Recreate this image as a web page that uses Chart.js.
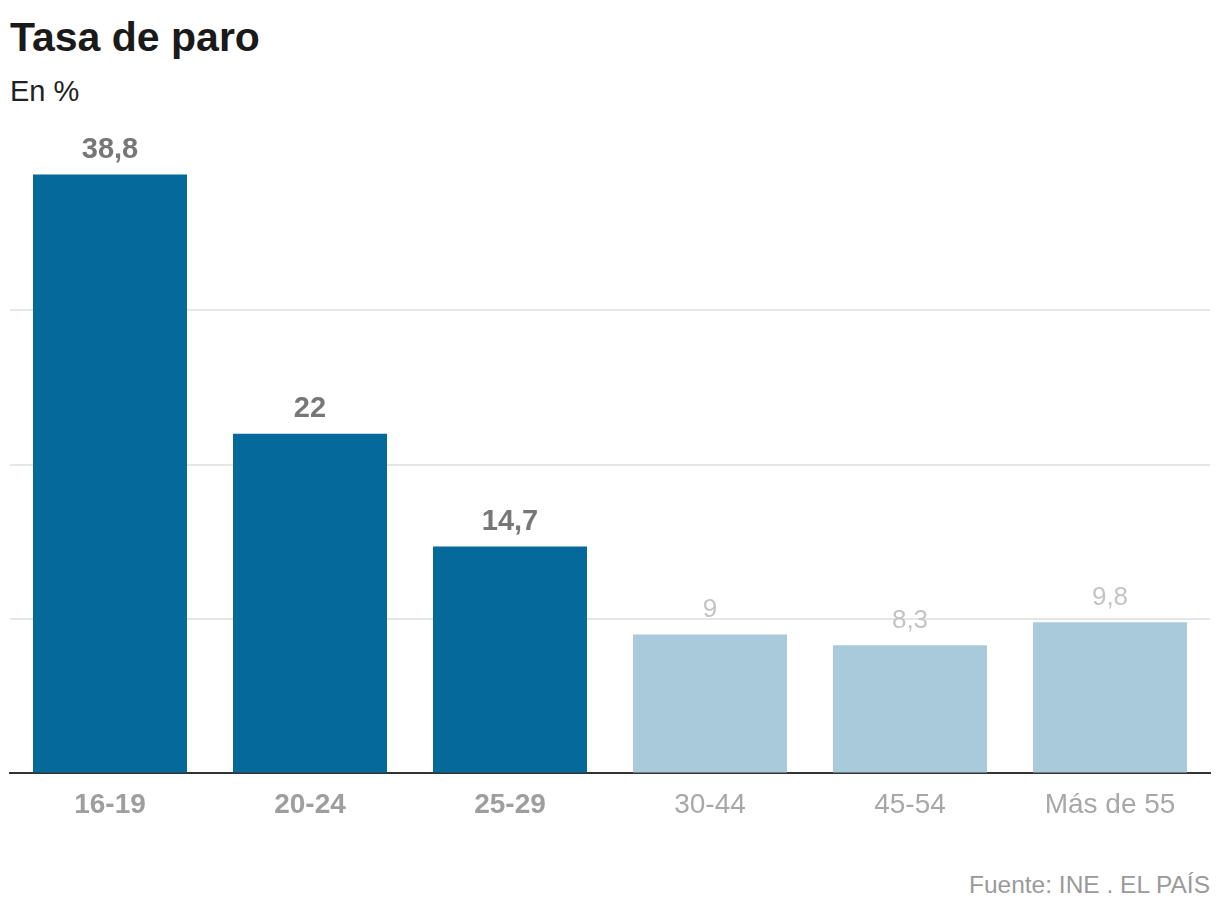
<!DOCTYPE html>
<html>
<head>
<meta charset="utf-8">
<script src="https://cdn.jsdelivr.net/npm/chart.js@4.4.1/dist/chart.umd.min.js"></script>
<style>
  body { margin: 0; background: #fff; width: 1220px; height: 914px; overflow: hidden; position: relative; }
  .txt { position: absolute; line-height: 1; white-space: nowrap; font-family: "Liberation Sans", Arial, sans-serif; }
  #title { left: 10px; top: 17px; font-weight: bold; font-size: 41px; color: #1a1a1a; }
  #sub { left: 10px; top: 77px; font-size: 29px; color: #222; }
  #source { right: 10px; top: 873px; font-size: 24.5px; color: #9a9a9a; }
  #wrap { position: absolute; left: 0; top: 0; width: 1220px; height: 914px; }
</style>
</head>
<body>
<div class="txt" id="title">Tasa de paro</div>
<div class="txt" id="sub">En %</div>
<div class="txt" id="source">Fuente: INE . EL PAÍS</div>
<div id="wrap"><canvas id="paroChart"></canvas></div>
<script>
const ageGroups = ["16-19", "20-24", "25-29", "30-44", "45-54", "Más de 55"];
const paroRates = [38.8, 22, 14.7, 9, 8.3, 9.8];
const valueLabels = ["38,8", "22", "14,7", "9", "8,3", "9,8"];
// the three youngest groups are highlighted
const highlighted = [true, true, true, false, false, false];

const sans = '"Liberation Sans", Arial, sans-serif';

const valueLabelPlugin = {
    id: 'valueLabels',
    afterDatasetsDraw(chart) {
        const ctx = chart.ctx;
        const meta = chart.getDatasetMeta(0);
        ctx.save();
        ctx.textAlign = 'center';
        ctx.textBaseline = 'alphabetic';
        meta.data.forEach((bar, i) => {
            if (highlighted[i]) {
                ctx.font = 'bold 29px ' + sans;
                ctx.fillStyle = '#777777';
            } else {
                ctx.font = '26px ' + sans;
                ctx.fillStyle = '#c4c4c4';
            }
            ctx.fillText(valueLabels[i], bar.x, bar.y - 17);
        });
        ctx.restore();
    }
};

const paroData = {
    labels: ageGroups,
    datasets: [
        {
            data: paroRates,
            backgroundColor: highlighted.map(h => h ? '#05699b' : '#a8cadb'),
            categoryPercentage: 1,
            barPercentage: 0.77,
        },
    ],
};

const paroConfig = {
    type: 'bar',
    data: paroData,
    options: {
        responsive: true,
        maintainAspectRatio: false,
        animation: false,
        layout: { padding: { left: 10, right: 10, top: 156, bottom: 77 } },
        plugins: {
            legend: { display: false },
            tooltip: { enabled: false },
        },
        scales: {
            x: {
                grid: { display: false, drawTicks: false },
                border: { display: true, color: '#333333', width: 2 },
                ticks: {
                    padding: 15,
                    color: (c) => highlighted[c.index] ? '#9e9e9e' : '#a8a8a8',
                    font: (c) => ({ family: sans, size: 28, weight: highlighted[c.index] ? 'bold' : 'normal' }),
                },
            },
            y: {
                min: 0,
                max: 40,
                ticks: { display: false, stepSize: 10 },
                border: { display: false },
                grid: {
                    drawTicks: false,
                    lineWidth: 2,
                    color: (c) => (c.tick.value === 0 || c.tick.value === 40) ? 'rgba(0,0,0,0)' : '#e6e6e6',
                },
            },
        },
    },
    plugins: [valueLabelPlugin],
};

const paroChart = new Chart(document.getElementById('paroChart'), paroConfig);
</script>
</body>
</html>
